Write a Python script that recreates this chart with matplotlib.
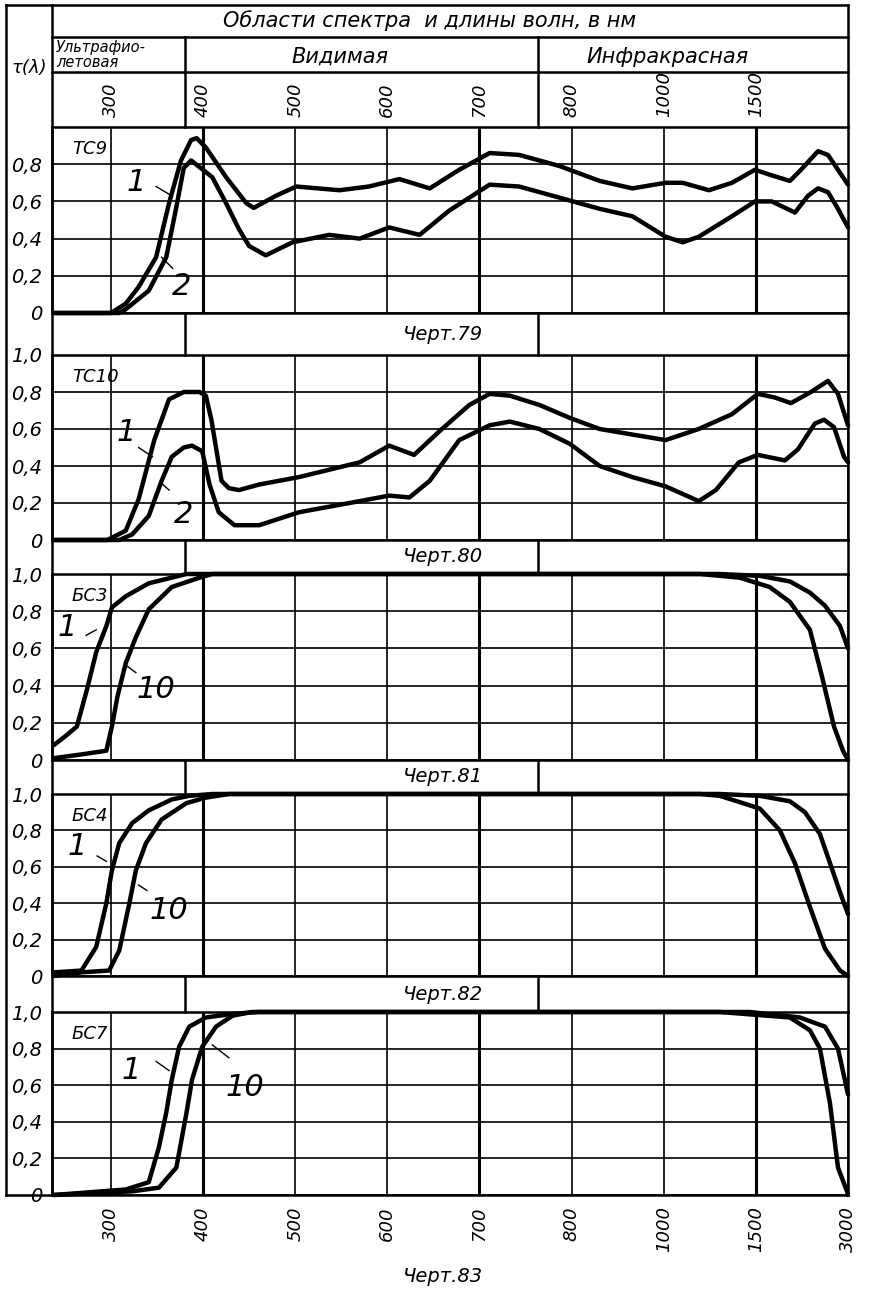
import numpy as np
import matplotlib
matplotlib.use("Agg")
import matplotlib.pyplot as plt

# wavelength axis (nm) - the chart uses equal spacing between these marks
tick_wl = [300, 400, 500, 600, 700, 800, 1000, 1500, 3000]
tick_lab = ["300", "400", "500", "600", "700", "800", "1000", "1500", "3000"]

# ТС9, curves 1 and 2
tc9_wl_1 = [238, 300, 316, 330, 349, 363, 376, 387, 393, 403, 425, 447, 455, 479, 501, 548, 580, 613,
            646, 678, 711, 743, 787, 861, 932, 1010, 1103, 1245, 1370, 1495, 1758, 2054, 2234, 2511,
            2674, 2837, 3000]
tc9_t_1 = [0, 0, 0.05, 0.14, 0.30, 0.59, 0.82, 0.93, 0.94, 0.89, 0.73, 0.59, 0.565, 0.63, 0.68, 0.66,
           0.68, 0.72, 0.67, 0.77, 0.86, 0.85, 0.79, 0.71, 0.67, 0.70, 0.70, 0.66, 0.70, 0.77, 0.74,
           0.71, 0.77, 0.87, 0.85, 0.77, 0.69]
tc9_wl_2 = [238, 309, 316, 341, 360, 371, 379, 387, 410, 425, 439, 450, 468, 497, 537, 570, 602, 635,
            667, 711, 743, 787, 861, 932, 1010, 1103, 1190, 1370, 1495, 1758, 2136, 2348, 2511, 2674,
            2837, 3000]
tc9_t_2 = [0, 0, 0.02, 0.12, 0.30, 0.57, 0.78, 0.82, 0.73, 0.59, 0.45, 0.36, 0.31, 0.38, 0.42, 0.40,
           0.46, 0.42, 0.55, 0.69, 0.68, 0.62, 0.56, 0.52, 0.41, 0.38, 0.41, 0.52, 0.60, 0.60, 0.54,
           0.63, 0.67, 0.65, 0.56, 0.46]

# ТС10
tc10_wl_1 = [238, 296, 316, 330, 347, 363, 379, 396, 403, 409, 420, 428, 439, 461, 504, 537, 570, 602,
             629, 657, 689, 711, 733, 765, 798, 861, 932, 1010, 1190, 1370, 1533, 1810, 2071, 2397,
             2674, 2837, 3000]
tc10_t_1 = [0, 0, 0.05, 0.22, 0.54, 0.76, 0.80, 0.80, 0.78, 0.65, 0.32, 0.28, 0.27, 0.30, 0.34, 0.38,
            0.42, 0.51, 0.46, 0.59, 0.73, 0.79, 0.78, 0.73, 0.66, 0.60, 0.57, 0.54, 0.60, 0.68, 0.79,
            0.77, 0.74, 0.80, 0.86, 0.79, 0.62]
tc10_wl_2 = [238, 309, 323, 341, 355, 366, 379, 388, 399, 407, 417, 434, 461, 504, 559, 602, 624, 646,
             678, 711, 733, 765, 798, 861, 932, 1010, 1190, 1283, 1408, 1533, 1973, 2185, 2462, 2609,
             2772, 2935, 3000]
tc10_t_2 = [0, 0, 0.03, 0.13, 0.32, 0.45, 0.50, 0.51, 0.48, 0.30, 0.15, 0.08, 0.08, 0.15, 0.20, 0.24,
            0.23, 0.32, 0.54, 0.62, 0.64, 0.60, 0.52, 0.40, 0.34, 0.29, 0.21, 0.27, 0.42, 0.46, 0.43,
            0.49, 0.63, 0.65, 0.61, 0.45, 0.42]

# БС3, thickness 1 and 10
bs3_wl_1 = [238, 251, 263, 274, 284, 295, 301, 316, 341, 382, 1304, 1565, 2054, 2380, 2625, 2870, 3000]
bs3_t_1 = [0.08, 0.13, 0.18, 0.38, 0.58, 0.72, 0.82, 0.88, 0.95, 1.0, 1.0, 0.99, 0.96, 0.90, 0.83, 0.72, 0.60]
bs3_wl_10 = [238, 268, 295, 301, 307, 316, 327, 341, 366, 396, 410, 1196, 1413, 1725, 2054, 2380, 2576,
             2772, 2918, 3000]
bs3_t_10 = [0.01, 0.03, 0.05, 0.18, 0.34, 0.52, 0.66, 0.81, 0.93, 0.98, 1.0, 1.0, 0.98, 0.93, 0.85, 0.70,
            0.45, 0.18, 0.05, 0.0]

# БС4
bs4_wl_1 = [238, 268, 284, 295, 301, 309, 323, 341, 366, 385, 410, 1304, 1565, 2054, 2299, 2543, 2707,
            2870, 3000]
bs4_t_1 = [0.02, 0.03, 0.16, 0.40, 0.58, 0.73, 0.84, 0.91, 0.97, 0.99, 1.0, 1.0, 0.99, 0.96, 0.90, 0.78,
           0.62, 0.46, 0.34]
bs4_wl_10 = [238, 268, 298, 309, 320, 327, 338, 355, 382, 403, 428, 1196, 1304, 1565, 1891, 2136, 2380,
             2625, 2870, 3000]
bs4_t_10 = [0.0, 0.02, 0.03, 0.14, 0.40, 0.58, 0.73, 0.86, 0.95, 0.98, 1.0, 1.0, 0.99, 0.92, 0.80, 0.62,
            0.38, 0.15, 0.03, 0.0]

# БС7
bs7_wl_1 = [238, 316, 341, 352, 360, 366, 374, 385, 403, 432, 460, 1467, 2217, 2625, 2837, 3000]
bs7_t_1 = [0.0, 0.03, 0.07, 0.26, 0.45, 0.63, 0.81, 0.92, 0.97, 0.99, 1.0, 1.0, 0.97, 0.92, 0.80, 0.55]
bs7_wl_10 = [238, 323, 352, 371, 382, 388, 399, 414, 432, 453, 1304, 2054, 2380, 2543, 2707, 2837, 2984, 3000]
bs7_t_10 = [0.0, 0.02, 0.04, 0.15, 0.45, 0.63, 0.81, 0.92, 0.98, 1.0, 1.0, 0.97, 0.90, 0.80, 0.50, 0.15,
            0.02, 0.0]

glass_names = ["ТС9", "ТС10", "БС3", "БС4", "БС7"]
captions = ["Черт.79", "Черт.80", "Черт.81", "Черт.82", "Черт.83"]

# figure layout in pixels
W, H = 871, 1294
X0, X1 = 52, 848
panel_px = [(127, 313), (355, 540), (574, 760), (794, 976), (1012, 1195)]

pos = np.arange(len(tick_wl))


def fwd(w):
    w = np.asarray(w, float)
    lo = (w - 300) / 100.0
    hi = 8 + (w - 3000) / 1500.0
    mid = np.interp(w, tick_wl, pos)
    return np.where(w < 300, lo, np.where(w > 3000, hi, mid))


def inv(p):
    p = np.asarray(p, float)
    lo = 300 + 100 * p
    hi = 3000 + 1500 * (p - 8)
    mid = np.interp(p, pos, tick_wl)
    return np.where(p < 0, lo, np.where(p > 8, hi, mid))


plt.rcParams['font.family'] = ['DejaVu Sans']
fig = plt.figure(figsize=(W / 100, H / 100), dpi=100)

series = [
    ((tc9_wl_1, tc9_t_1), (tc9_wl_2, tc9_t_2)),
    ((tc10_wl_1, tc10_t_1), (tc10_wl_2, tc10_t_2)),
    ((bs3_wl_1, bs3_t_1), (bs3_wl_10, bs3_t_10)),
    ((bs4_wl_1, bs4_t_1), (bs4_wl_10, bs4_t_10)),
    ((bs7_wl_1, bs7_t_1), (bs7_wl_10, bs7_t_10)),
]

# curve number labels: (wl, t, text), leader (wl1, t1, wl2, t2)
notes = [
    [(327, 0.70, "1", (349, 0.68, 366, 0.63)), (377, 0.14, "2", (367, 0.24, 355, 0.30))],
    [(316, 0.58, "1", (330, 0.50, 345, 0.45)), (379, 0.14, "2", (363, 0.27, 354, 0.31))],
    [(252, 0.71, "1", (273, 0.67, 284, 0.70)), (349, 0.38, "10", (316, 0.51, 327, 0.47))],
    [(263, 0.71, "1", (285, 0.66, 295, 0.63)), (363, 0.36, "10", (330, 0.50, 339, 0.47))],
    [(322, 0.68, "1", (349, 0.73, 363, 0.68)), (445, 0.59, "10", (410, 0.82, 428, 0.75))],
]

axes = []
for i, (top, bot) in enumerate(panel_px):
    ax = fig.add_axes([X0 / W, 1 - bot / H, (X1 - X0) / W, (bot - top) / H])
    ax.set_xscale('function', functions=(fwd, inv))
    ax.set_xlim(236, 3000)
    ax.set_ylim(0, 1)
    if i == 0:
        yt = [0, 0.2, 0.4, 0.6, 0.8]
        ax.set_xticks(tick_wl[:-1])
    else:
        yt = [0, 0.2, 0.4, 0.6, 0.8, 1.0]
        ax.set_xticks(tick_wl)
    ax.set_yticks(yt)
    ax.set_yticklabels([("%.1f" % v).replace(".", ",") if v > 0 else "0" for v in yt],
                       fontsize=14, fontstyle='italic')
    ax.tick_params(axis='y', length=0, pad=7)
    ax.tick_params(axis='x', length=0, labelbottom=False)
    ax.grid(True, color='black', lw=1.2)
    for w in [400, 700, 1500]:
        ax.axvline(w, color='black', lw=2.2)
    for s in ax.spines.values():
        s.set_linewidth(1.8)

    (wa, ta), (wb, tb) = series[i]
    ax.plot(wa, ta, color='black', lw=3.2, clip_on=False, solid_capstyle='round', zorder=5)
    ax.plot(wb, tb, color='black', lw=3.2, clip_on=False, solid_capstyle='round', zorder=5)

    ax.text(0.025, 0.93, glass_names[i], transform=ax.transAxes, fontsize=13,
            fontstyle='italic', ha='left', va='top')
    for wl, t, txt, (l1, m1, l2, m2) in notes[i]:
        ax.text(wl, t, txt, fontsize=22, fontstyle='italic', ha='center', va='center')
        ax.plot([l1, l2], [m1, m2], color='black', lw=1.0)
    axes.append(ax)

# wavelength labels on top (header) and bottom
axes[0].tick_params(axis='x', labeltop=True, pad=7)
axes[0].set_xticklabels(tick_lab[:-1], rotation=90, fontsize=13, fontstyle='italic')
axes[-1].tick_params(axis='x', labelbottom=True, pad=8)
axes[-1].set_xticklabels(tick_lab, rotation=90, fontsize=13, fontstyle='italic')

# overlay in pixel coordinates for the table frame, header and captions
ov = fig.add_axes([0, 0, 1, 1], zorder=10)
ov.set_xlim(0, W)
ov.set_ylim(H, 0)
ov.axis('off')
ov.patch.set_alpha(0)

lk = dict(color='black', lw=1.8)
ov.plot([6, X1], [5, 5], **lk)
ov.plot([6, 6], [5, 1195], **lk)
ov.plot([6, X0], [1195, 1195], **lk)
ov.plot([X0, X0], [5, 1195], **lk)
ov.plot([X1, X1], [5, 127], **lk)
ov.plot([X0, X1], [37, 37], **lk)
ov.plot([X0, X1], [72, 72], **lk)
ov.plot([185, 185], [37, 127], **lk)
ov.plot([538, 538], [37, 127], **lk)

ov.text(430, 21, "Области спектра  и длины волн, в нм", fontsize=15, fontstyle='italic',
        ha='center', va='center')
ov.text(56, 55, "Ультрафио-\nлетовая", fontsize=10.5, fontstyle='italic', ha='left', va='center',
        linespacing=0.95)
ov.text(340, 57, "Видимая", fontsize=15, fontstyle='italic', ha='center', va='center')
ov.text(667, 57, "Инфракрасная", fontsize=15, fontstyle='italic', ha='center', va='center')
ov.text(29, 68, "τ(λ)", fontsize=13, fontstyle='italic', ha='center', va='center')

# caption bars between the panels
for i in range(len(panel_px) - 1):
    y_top = panel_px[i][1]
    y_bot = panel_px[i + 1][0]
    for xx in [185, 538, X1]:
        ov.plot([xx, xx], [y_top, y_bot], **lk)
    ov.text(443, (y_top + y_bot) / 2, captions[i], fontsize=14, fontstyle='italic',
            ha='center', va='center')

ov.text(443, 1277, captions[-1], fontsize=14, fontstyle='italic', ha='center', va='center')

fig.savefig("out.png", dpi=100)
